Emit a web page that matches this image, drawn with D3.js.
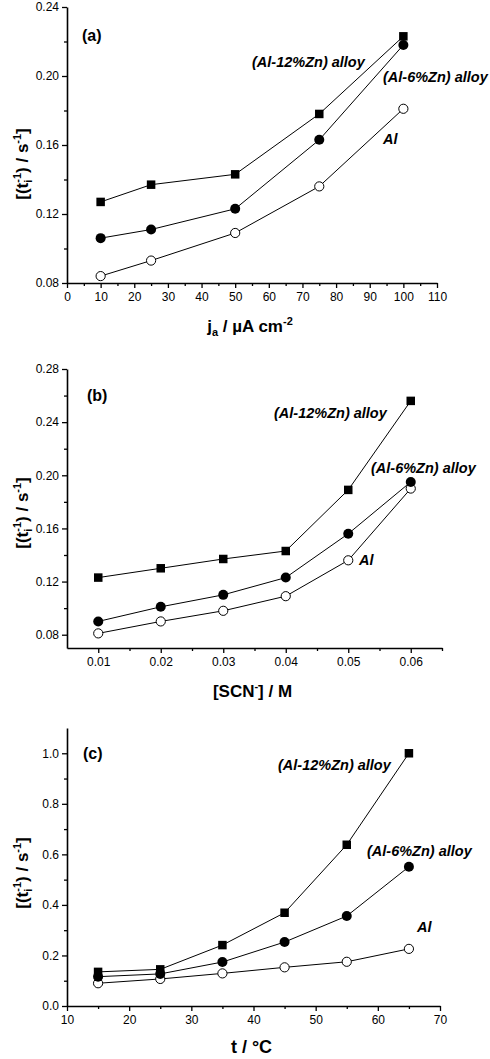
<!DOCTYPE html>
<html>
<head>
<meta charset="utf-8">
<script src="https://cdn.jsdelivr.net/npm/d3@7"></script>
<style>
  body { margin: 0; background: #fff; }
  svg { display: block; }
</style>
</head>
<body>
<svg id="chart"></svg>
<script>
const totalWidth = 490;
const totalHeight = 1059;

// (a) effect of anodic current density
const currentDensity = [10, 25, 50, 75, 100];
const rateA12 = [0.127, 0.137, 0.143, 0.178, 0.223];
const rateA6 = [0.106, 0.111, 0.123, 0.163, 0.218];
const rateAAl = [0.084, 0.093, 0.109, 0.136, 0.181];

// (b) effect of SCN- concentration
const scnConc = [0.01, 0.02, 0.03, 0.04, 0.05, 0.06];
const rateB12 = [0.123, 0.130, 0.137, 0.143, 0.189, 0.256];
const rateB6 = [0.090, 0.101, 0.110, 0.123, 0.156, 0.195];
const rateBAl = [0.081, 0.090, 0.098, 0.109, 0.136, 0.190];

// (c) effect of temperature
const temperature = [15, 25, 35, 45, 55, 65];
const rateC12 = [0.135, 0.145, 0.241, 0.369, 0.638, 1.0];
const rateC6 = [0.116, 0.127, 0.174, 0.253, 0.356, 0.551];
const rateCAl = [0.090, 0.107, 0.129, 0.153, 0.175, 0.226];

// tick values
const xTicksA = [0, 10, 20, 30, 40, 50, 60, 70, 80, 90, 100, 110];
const yTicksA = [0.08, 0.12, 0.16, 0.20, 0.24];
const xTicksB = [0.01, 0.02, 0.03, 0.04, 0.05, 0.06];
const yTicksB = [0.08, 0.12, 0.16, 0.20, 0.24, 0.28];
const xTicksC = [10, 20, 30, 40, 50, 60, 70];
const yTicksC = [0.0, 0.2, 0.4, 0.6, 0.8, 1.0];

const seriesNames = ["(Al-12%Zn) alloy", "(Al-6%Zn) alloy", "Al"];

const svg = d3.select('#chart')
    .attr('width', totalWidth)
    .attr('height', totalHeight)
    .attr('font-family', "'Liberation Sans', Arial, sans-serif");

const panels = [
    {
        tag: "(a)", xs: currentDensity, series: [rateA12, rateA6, rateAAl],
        xDomain: [0, 110], yDomain: [0.08, 0.24],
        xRange: [67, 437], yRange: [283, 7],
        xTicks: xTicksA, xMinor: d3.range(5, 110, 10), xFmt: d3.format("d"),
        yTicks: yTicksA, yMinor: [0.10, 0.14, 0.18, 0.22], yFmt: d3.format(".2f"),
        tagPos: [82, 41],
        labelPos: [[252, 67], [383, 82], [383, 144]],
        xLabel: "a", xLabelY: 332, yLabelY: 164
    },
    {
        tag: "(b)", xs: scnConc, series: [rateB12, rateB6, rateBAl],
        xDomain: [0.005, 0.065], yDomain: [0.07, 0.28],
        xRange: [67, 442], yRange: [648, 369],
        xTicks: xTicksB, xMinor: [0.015, 0.025, 0.035, 0.045, 0.055, 0.065], xFmt: d3.format(".2f"),
        yTicks: yTicksB, yMinor: [0.10, 0.14, 0.18, 0.22, 0.26], yFmt: d3.format(".2f"),
        tagPos: [87, 401],
        labelPos: [[274, 418], [371, 473], [359, 565]],
        xLabel: "b", xLabelY: 697, yLabelY: 513
    },
    {
        tag: "(c)", xs: temperature, series: [rateC12, rateC6, rateCAl],
        xDomain: [10, 70], yDomain: [0, 1.1],
        xRange: [67, 440], yRange: [1006, 728],
        xTicks: xTicksC, xMinor: [15, 25, 35, 45, 55, 65], xFmt: d3.format("d"),
        yTicks: yTicksC, yMinor: [0.1, 0.3, 0.5, 0.7, 0.9], yFmt: d3.format(".1f"),
        tagPos: [83, 759],
        labelPos: [[278, 770], [367, 856], [417, 932]],
        xLabel: "c", xLabelY: 1053, yLabelY: 873
    }
];

panels.forEach(drawPanel);

function drawPanel(p) {
    const x = d3.scaleLinear().domain(p.xDomain).range(p.xRange);
    const y = d3.scaleLinear().domain(p.yDomain).range(p.yRange);
    const g = svg.append("g");

    // minor ticks
    g.append("g")
        .attr("transform", `translate(0,${p.yRange[0]})`)
        .call(d3.axisBottom(x).tickValues(p.xMinor).tickSize(3).tickSizeOuter(0).tickFormat(""))
        .call(s => s.select(".domain").remove());
    g.append("g")
        .attr("transform", `translate(${p.xRange[0]},0)`)
        .call(d3.axisLeft(y).tickValues(p.yMinor).tickSize(3).tickSizeOuter(0).tickFormat(""))
        .call(s => s.select(".domain").remove());

    // major axes
    g.append("g")
        .attr("transform", `translate(0,${p.yRange[0]})`)
        .call(d3.axisBottom(x).tickValues(p.xTicks).tickFormat(p.xFmt).tickSize(5).tickSizeOuter(0).tickPadding(4));
    g.append("g")
        .attr("transform", `translate(${p.xRange[0]},0)`)
        .call(d3.axisLeft(y).tickValues(p.yTicks).tickFormat(p.yFmt).tickSize(5).tickSizeOuter(0).tickPadding(3));

    g.selectAll(".tick line").attr("stroke", "#000").attr("stroke-width", 1.3);
    g.selectAll(".domain").attr("stroke", "#000").attr("stroke-width", 1.6);
    g.selectAll(".tick text")
        .attr("font-family", "'Liberation Sans', Arial, sans-serif")
        .attr("font-size", "12px")
        .attr("fill", "#000");

    // lines
    const line = d3.line()
        .x((d, i) => x(p.xs[i]))
        .y(d => y(d));
    p.series.forEach(vals => {
        g.append("path")
            .attr("d", line(vals))
            .attr("fill", "none")
            .attr("stroke", "#000")
            .attr("stroke-width", 1);
    });

    // markers: open circles (Al), filled circles (6%), squares (12%)
    g.selectAll(".m-al")
        .data(p.series[2])
        .enter()
        .append("circle")
        .attr("cx", (d, i) => x(p.xs[i]))
        .attr("cy", d => y(d))
        .attr("r", 4.6)
        .attr("fill", "#fff")
        .attr("stroke", "#000")
        .attr("stroke-width", 1);
    g.selectAll(".m-6")
        .data(p.series[1])
        .enter()
        .append("circle")
        .attr("cx", (d, i) => x(p.xs[i]))
        .attr("cy", d => y(d))
        .attr("r", 5)
        .attr("fill", "#000");
    const sq = 8.5;
    g.selectAll(".m-12")
        .data(p.series[0])
        .enter()
        .append("rect")
        .attr("x", (d, i) => x(p.xs[i]) - sq / 2)
        .attr("y", d => y(d) - sq / 2)
        .attr("width", sq)
        .attr("height", sq)
        .attr("fill", "#000");

    // panel tag
    g.append("text")
        .attr("x", p.tagPos[0])
        .attr("y", p.tagPos[1])
        .attr("font-size", "16px")
        .attr("font-weight", "bold")
        .text(p.tag);

    // series labels
    seriesNames.forEach((name, i) => {
        g.append("text")
            .attr("x", p.labelPos[i][0])
            .attr("y", p.labelPos[i][1])
            .attr("font-size", "14.5px")
            .attr("font-weight", "bold")
            .attr("font-style", "italic")
            .text(name);
    });

    // y label
    const cx = (p.xRange[0] + p.xRange[1]) / 2 - 2;
    const yl = g.append("text")
        .attr("transform", `translate(28,${p.yLabelY}) rotate(-90)`)
        .attr("text-anchor", "middle")
        .attr("font-size", "17px")
        .attr("font-weight", "bold");
    yl.append("tspan").text("[(t");
    yl.append("tspan").attr("font-size", "11px").attr("dy", 4).text("i");
    yl.append("tspan").attr("font-size", "11px").attr("dx", -3).attr("dy", -11).text("-1");
    yl.append("tspan").attr("dy", 7).text(") / s");
    yl.append("tspan").attr("font-size", "11px").attr("dy", -7).text("-1");
    yl.append("tspan").attr("dy", 7).text("]");

    // x label
    const xl = g.append("text")
        .attr("x", cx)
        .attr("y", p.xLabelY)
        .attr("text-anchor", "middle")
        .attr("font-size", "17px")
        .attr("font-weight", "bold");
    if (p.xLabel === "a") {
        xl.append("tspan").text("j");
        xl.append("tspan").attr("font-size", "11px").attr("dy", 4).text("a");
        xl.append("tspan").attr("dy", -4).text(" / \u00B5A cm");
        xl.append("tspan").attr("font-size", "11px").attr("dy", -7).text("-2");
    } else if (p.xLabel === "b") {
        xl.append("tspan").text("[SCN");
        xl.append("tspan").attr("font-size", "11px").attr("dy", -7).text("-");
        xl.append("tspan").attr("dy", 7).text("] / M");
    } else {
        xl.attr("font-size", "18px").text("t / \u00B0C");
    }
}
</script>
</body>
</html>
